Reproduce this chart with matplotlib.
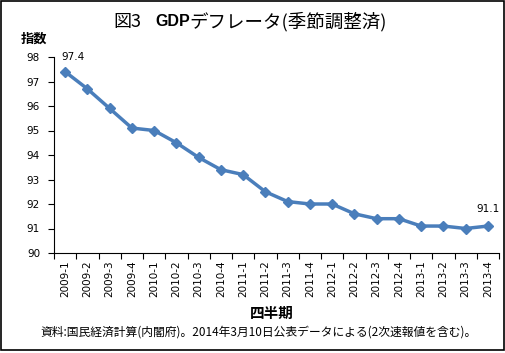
import matplotlib
matplotlib.use("Agg")
import matplotlib.pyplot as plt
from matplotlib.patches import Rectangle

plt.rcParams['font.family'] = ['DejaVu Sans', 'Noto Sans CJK JP']

quarters = ["2009-1", "2009-2", "2009-3", "2009-4", "2010-1", "2010-2", "2010-3", "2010-4",
            "2011-1", "2011-2", "2011-3", "2011-4", "2012-1", "2012-2", "2012-3", "2012-4",
            "2013-1", "2013-2", "2013-3", "2013-4"]
deflator = [97.4, 96.7, 95.9, 95.1, 95.0, 94.5, 93.9, 93.4, 93.2, 92.5, 92.1, 92.0,
            92.0, 91.6, 91.4, 91.4, 91.1, 91.1, 91.0, 91.1]
yticks = [90, 91, 92, 93, 94, 95, 96, 97, 98]

W, H = 506, 353
fig = plt.figure(figsize=(W / 100, H / 100), dpi=100)
ax = fig.add_axes([54 / W, 1 - 253 / H, (499 - 54) / W, (253 - 57) / H])

x = list(range(len(quarters)))
ax.plot(x, deflator, color='#4A7EBB', lw=2.5, marker='D', ms=5.5,
        markerfacecolor='#4A7EBB', markeredgecolor='#4A7EBB', zorder=3)

ax.set_xlim(-0.5, len(quarters) - 0.5)
ax.set_ylim(90, 98)
ax.set_yticks(yticks)
ax.set_yticklabels([str(v) for v in yticks], fontsize=7.5)
ax.set_xticks([i - 0.5 for i in range(len(quarters) + 1)])
ax.set_xticklabels([])
ax.set_xticks(x, minor=True)
ax.set_xticklabels(quarters, minor=True, rotation=90, fontsize=7.5)
ax.tick_params(axis='x', which='minor', length=0, pad=5)
ax.tick_params(axis='x', which='major', length=4, width=0.8, direction='out')
ax.tick_params(axis='y', length=4, width=0.8, direction='out', pad=6)
for s in ['top', 'right']:
    ax.spines[s].set_visible(False)
for s in ['left', 'bottom']:
    ax.spines[s].set_linewidth(0.8)

ax.annotate(f"{deflator[0]}", (x[0], deflator[0]), xytext=(6, 10.5),
            textcoords='offset points', ha='center', va='center', fontsize=7.5)
ax.annotate(f"{deflator[-1]}", (x[-1], deflator[-1]), xytext=(0, 12.5),
            textcoords='offset points', ha='center', va='center', fontsize=7.5)

jp = ['Noto Sans CJK JP', 'DejaVu Sans']
ty = 1 - 22 / H
fig.text(113 / W, ty, "図3", fontsize=13, family=jp, va='center', ha='left')
fig.text(155 / W, ty, "GDP", fontsize=11.5, family=['Liberation Sans'], weight='bold', va='center', ha='left')
fig.text(189 / W, ty, "デフレータ(季節調整済)", fontsize=13.3, family=jp, va='center', ha='left')

fig.text(34 / W, 1 - 39 / H, "指数", fontsize=9.5, family=jp, weight='bold', ha='center', va='center')
fig.text(272 / W, 1 - 313 / H, "四半期", fontsize=10.5, family=jp, weight='bold', ha='center', va='center')
fig.text(259 / W, 1 - 332 / H, "資料:国民経済計算(内閣府)。2014年3月10日公表データによる(2次速報値を含む)。",
         fontsize=8.5, family=jp, ha='center', va='center')

fig.patches.append(Rectangle((0.8 / W, 1 - 350 / H), 503.5 / W, 349 / H, transform=fig.transFigure,
                             fill=False, edgecolor='black', lw=1.2))

fig.savefig("out.png", dpi=100)
